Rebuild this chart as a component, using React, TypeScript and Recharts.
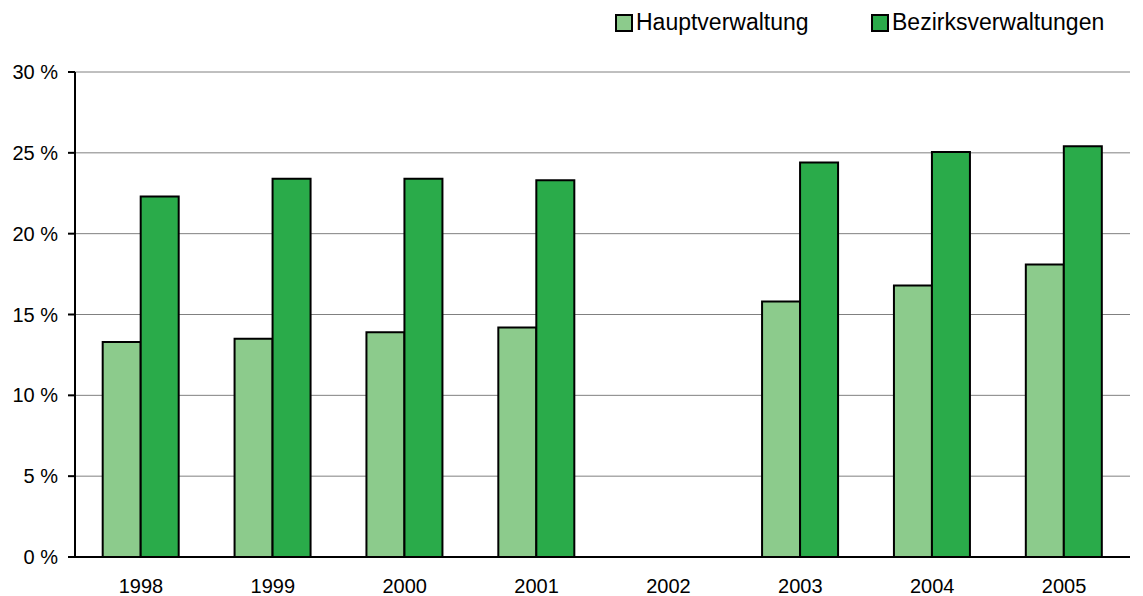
import React from 'react';
import { BarChart, Bar, XAxis, YAxis, CartesianGrid } from 'recharts';

const years = ['1998', '1999', '2000', '2001', '2002', '2003', '2004', '2005'];
const hauptverwaltung = [13.3, 13.5, 13.9, 14.2, null, 15.8, 16.8, 18.1];
const bezirksverwaltungen = [22.3, 23.4, 23.4, 23.3, null, 24.4, 25.05, 25.4];
const yTicks = [0, 5, 10, 15, 20, 25, 30];

const data = years.map((year, i) => ({
  year,
  haupt: hauptverwaltung[i],
  bezirk: bezirksverwaltungen[i],
}));

const LIGHT = '#8ccb8c';
const DARK = '#2aab4a';
const FONT = '"Liberation Sans", Arial, sans-serif';

const legendItems = [
  { label: 'Hauptverwaltung', color: LIGHT, left: 615 },
  { label: 'Bezirksverwaltungen', color: DARK, left: 871 },
];

export default function App() {
  return (
    <div style={{ position: 'absolute', left: 0, top: 0, width: 1143, height: 596, background: '#fff' }}>
      {/* legend drawn as plain html so it doesn't push the plot down */}
      {legendItems.map((item) => (
        <div
          key={item.label}
          style={{
            position: 'absolute',
            left: item.left,
            top: 9,
            display: 'flex',
            alignItems: 'center',
            fontFamily: FONT,
            fontSize: 23,
            lineHeight: '27px',
            color: '#000',
            whiteSpace: 'nowrap',
          }}
        >
          <span
            style={{
              display: 'inline-block',
              width: 14,
              height: 14,
              background: item.color,
              border: '2px solid #000',
              marginRight: 3,
            }}
          />
          <span>{item.label}</span>
        </div>
      ))}
      <BarChart
        width={1143}
        height={596}
        data={data}
        margin={{ top: 72, right: 13, left: 0, bottom: 3 }}
        barGap={0}
        barCategoryGap="21%"
      >
        <CartesianGrid vertical={false} stroke="#808080" strokeWidth={1} />
        <XAxis
          dataKey="year"
          axisLine={{ stroke: '#000', strokeWidth: 2 }}
          tickLine={false}
          tick={{ fill: '#000', fontSize: 20, fontFamily: FONT }}
          tickMargin={16}
          height={36}
        />
        <YAxis
          domain={[0, 30]}
          ticks={yTicks}
          width={75}
          axisLine={{ stroke: '#000', strokeWidth: 2 }}
          tickLine={{ stroke: '#000', strokeWidth: 2 }}
          tickSize={7}
          tickMargin={10}
          tick={{ fill: '#000', fontSize: 20, fontFamily: FONT }}
          tickFormatter={(v) => `${v} %`}
        />
        <Bar dataKey="haupt" name="Hauptverwaltung" fill={LIGHT} stroke="#000" strokeWidth={2} isAnimationActive={false} />
        <Bar dataKey="bezirk" name="Bezirksverwaltungen" fill={DARK} stroke="#000" strokeWidth={2} isAnimationActive={false} />
      </BarChart>
    </div>
  );
}
